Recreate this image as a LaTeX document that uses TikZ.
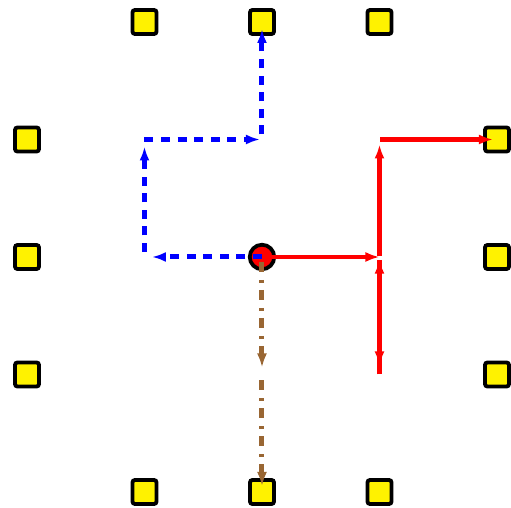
\documentclass[tikz,border=0pt]{standalone}
\usetikzlibrary{arrows.meta}
\definecolor{walkbrown}{RGB}{153,102,51}
\tikzset{
  site/.style={draw=black, fill=yellow, line width=1.9pt, rounded corners=1.2pt,
    minimum size=12pt, inner sep=0pt},
  origin/.style={circle, draw=black, fill=red, line width=1.9pt,
    minimum size=12.25pt, inner sep=0pt},
  tip/.style={-{Latex[length=7pt,width=5pt]}},
  redwalk/.style={tip, draw=red, line width=2.3pt},
  bluewalk/.style={tip, draw=blue, line width=2.5pt, dash pattern=on 4.5pt off 3.8pt},
  brownwalk/.style={tip, draw=walkbrown, line width=2.5pt,
    dash pattern=on 5pt off 4pt on 1.5pt off 3.5pt}
}
\begin{document}
\begin{tikzpicture}[x=58.75pt,y=58.75pt]
  \useasboundingbox (-131pt,-125.5pt) rectangle (124.5pt,128.5pt);

  % outer ring of lattice sites
  \foreach \i/\x/\y in {a/-1/2, b/0/2, c/1/2, d/-2/1, e/-2/0, f/-2/-1,
                        g/2/1, h/2/0, k/2/-1, l/-1/-2, m/0/-2, n/1/-2}
    \node[site] (s\i) at (\x,\y) {};

  % inner lattice points visited by the walks
  \coordinate (o) at (0,0);
  \coordinate (r0) at (1,0);
  \coordinate (r1) at (1,1);
  \coordinate (rd) at (1,-1);
  \coordinate (l0) at (-1,0);
  \coordinate (l1) at (-1,1);
  \coordinate (u1) at (0,1);
  \coordinate (d1) at (0,-1);

  \node[origin] (start) at (o) {};

  % red walk
  \draw[redwalk] (o) -- (r0);
  \draw[redwalk, shorten <=0.5pt, shorten >=2.5pt] (r0) -- (r1);
  \draw[redwalk, shorten <=0.5pt, shorten >=2pt] (r1) -- (sg.center);
  \draw[redwalk, shorten >=1.3pt] (rd) -- (r0);
  \draw[redwalk, shorten <=1.5pt, shorten >=4.5pt] (r0) -- (rd);

  % blue walk
  \draw[bluewalk, shorten >=3.7pt] (o) -- (l0);
  \draw[bluewalk, shorten <=2.5pt, shorten >=3.5pt] (l0) -- (l1);
  \draw[bluewalk, shorten >=1pt] (l1) -- (u1);
  \draw[bluewalk, shorten <=2.5pt, shorten >=3.5pt] (u1) -- (sb.center);

  % brown walk
  \draw[brownwalk, shorten <=2.5pt, shorten >=3.5pt] (o) -- (d1);
  \draw[brownwalk, shorten <=3pt, shorten >=3pt] (d1) -- (sm.center);
\end{tikzpicture}
\end{document}
